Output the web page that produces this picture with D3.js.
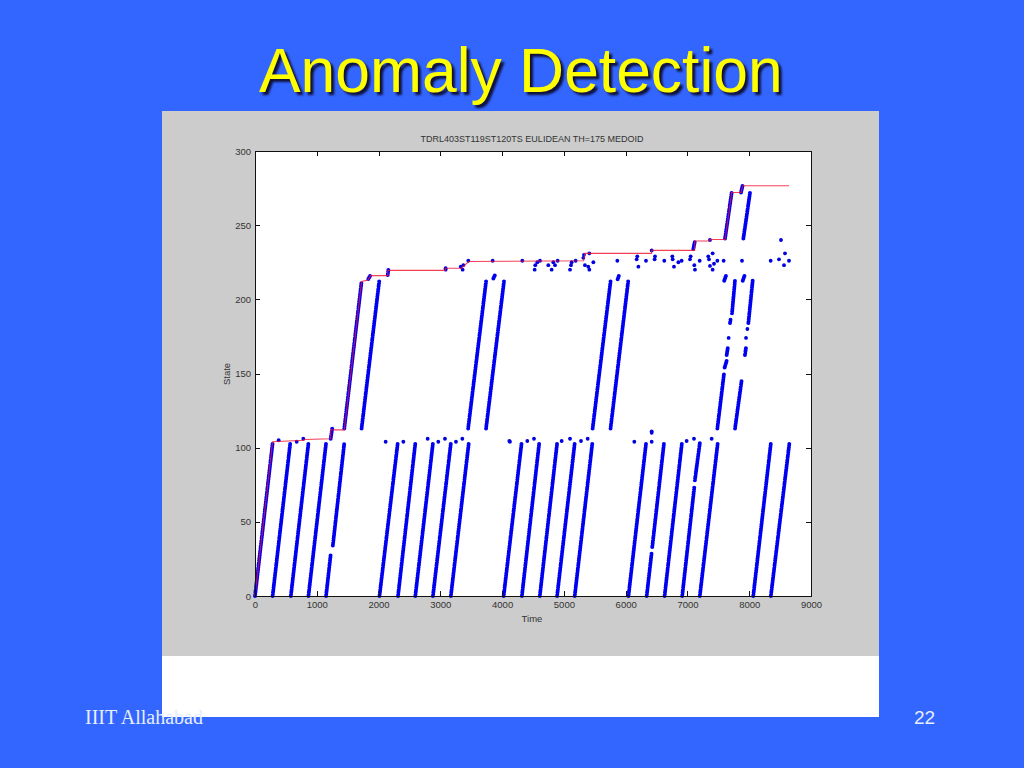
<!DOCTYPE html>
<html>
<head>
<meta charset="utf-8">
<script src="https://cdn.jsdelivr.net/npm/d3@7"></script>
<style>
  html, body { margin: 0; padding: 0; background: #3366ff; overflow: hidden; }
  text { font-family: "Liberation Sans", Arial, sans-serif; }
  .axis text { font-size: 9.5px; fill: #333; font-family: "Liberation Sans", Arial, sans-serif; }
  .axis path, .axis line { stroke: #111; shape-rendering: crispEdges; }
</style>
</head>
<body>
<script>
var timeTicks = [0, 1000, 2000, 3000, 4000, 5000, 6000, 7000, 8000, 9000]
var stateTicks = [0, 50, 100, 150, 200, 250, 300]

// dense runs of dots, each one is a list of [time, state]
var lowerRuns = [
    [[0, 0], [285, 103]],
    [[285, 0], [570, 103]],
    [[580, 0], [865, 103]],
    [[865, 0], [1150, 103]],
    [[1150, 0], [1225, 28]],
    [[1260, 34], [1445, 103]],
    [[2015, 0], [2310, 103]],
    [[2315, 0], [2595, 103]],
    [[2595, 0], [2880, 103]],
    [[2880, 0], [3170, 103]],
    [[3170, 0], [3460, 103]],
    [[4025, 0], [4315, 103]],
    [[4320, 0], [4600, 103]],
    [[4610, 0], [4890, 103]],
    [[4890, 0], [5175, 103]],
    [[5175, 0], [5460, 103]],
    [[6045, 0], [6330, 103]],
    [[6340, 0], [6420, 29]],
    [[6430, 33], [6620, 103]],
    [[6630, 0], [6910, 103]],
    [[6915, 0], [7110, 73]],
    [[7120, 78], [7200, 103]],
    [[7200, 0], [7490, 103]],
    [[8065, 0], [8350, 103]],
    [[8350, 0], [8650, 103]]
]
var middleRuns = [
    [[1225, 106], [1250, 113]],
    [[1445, 113], [1725, 212]],
    [[1725, 113], [2010, 212]],
    [[3450, 113], [3740, 212]],
    [[3740, 113], [4030, 212]],
    [[5465, 113], [5755, 212]],
    [[5755, 113], [6040, 212]],
    [[7484, 113], [7592, 150]],
    [[7602, 154], [7635, 158.6]],
    [[7635, 162.5], [7656, 168]],
    [[7689, 184], [7700, 187]],
    [[7721, 190.6], [7770, 213]],
    [[7770, 113], [7878, 145.6]],
    [[7931, 162.5], [7948, 167.6]],
    [[7986, 184], [8056, 212.6]]
]
var upperRuns = [
    [[1834, 213.7], [1873, 216.4]],
    [[2148, 216.4], [2159, 220]],
    [[3858, 214], [3885, 216.4]],
    [[5870, 213.5], [5892, 216]],
    [[7595, 212.5], [7625, 216]],
    [[7895, 212.5], [7925, 216]],
    [[7095, 234], [7122, 239.5]],
    [[7608, 241], [7716, 272]],
    [[7905, 241], [8013, 272]],
    [[7867, 272], [7894, 277]]
]

// single dots
var dotTimes = [383, 675, 782, 2115, 2401, 2795, 2967, 3075, 3253, 3356, 4117, 4127, 4408, 4516, 4964, 5099, 5277, 5385,
    6140, 6421, 6421, 6421, 6987, 7106, 7392,
    7667, 7948, 7970,
    3086, 3086, 3330, 3372, 3453, 3361, 3847, 4327, 4570, 4613, 4537, 4527, 4748, 4802, 4856, 4829, 4899,
    5099, 5115, 5126, 5190, 5315, 5325, 5412, 5341, 5395, 5477, 5412, 5865,
    6188, 6178, 6206, 6329, 6421, 6475, 6469, 6625, 6755, 6761, 6782, 6853, 6906,
    7052, 7041, 7111, 7122, 7198, 7337, 7349, 7408, 7365, 7408, 7430, 7484, 7365,
    7586, 7883, 8347, 8514, 8482, 8579, 8563, 8644]
var dotStates = [105, 104, 106, 104, 104, 106, 104, 106, 104, 106, 104.5, 104, 104.5, 106, 104.5, 106, 104.5, 106,
    104, 110, 111, 104, 104.5, 106, 106,
    174, 174, 180,
    221, 220, 222, 223, 226, 220, 226, 226, 225, 226, 223, 220, 223, 220, 223, 225, 226,
    220, 223, 225, 226, 228, 230, 231, 223, 222, 225, 220, 226,
    229, 227, 222, 226, 233, 229, 227, 226, 229, 227, 222, 225, 226,
    229, 227, 223, 220, 226, 229, 227, 231, 222.5, 220, 224, 226, 240,
    226, 226, 226, 240, 227, 231, 223, 226]

var redTimes = [0, 285, 790, 790, 1225, 1225, 1445, 1725, 1830, 1870, 2150, 2150, 3080, 3080, 3340, 3460, 5320, 5340, 6420, 6420, 7115, 7120, 7365, 7365, 7610, 7716, 7870, 7890, 8644]
var redStates = [0, 104, 105, 105.5, 106, 112, 112, 212, 213, 216, 216, 219.5, 219.5, 221, 221, 225.5, 226, 231, 231, 233, 233, 239.3, 239.3, 240.3, 240.3, 272, 272, 276.6, 276.6]

var svg = d3.select("body").append("svg")
    .attr("width", 1024).attr("height", 768)
    .style("display", "block")

var left = 255, right = 811, top_ = 151, bottom = 596

var x = d3.scaleLinear().domain([0, 9000]).range([left, right])
var y = d3.scaleLinear().domain([0, 300]).range([bottom, top_])

// the pasted figure: white sheet with grey matlab window on top
svg.append("rect").attr("x", 162).attr("y", 111).attr("width", 717).attr("height", 606).style("fill", "white")
svg.append("rect").attr("x", 162).attr("y", 111).attr("width", 717).attr("height", 545).style("fill", "#cccccc")
svg.append("rect").attr("x", left).attr("y", top_).attr("width", right - left).attr("height", bottom - top_).style("fill", "white")

// slide title, the shadow is a filter so there is only one text
svg.append("text")
    .attr("x", 259).attr("y", 92)
    .style("font-size", "62.4px")
    .style("fill", "#ffff00")
    .style("filter", "drop-shadow(3px 3px 1px #10103a)")
    .text("Anomaly Detection")

var line = d3.line()
    .x(function (d) { return x(d[0]) })
    .y(function (d) { return y(d[1]) })

svg.append("g").selectAll("path")
    .data(lowerRuns.concat(middleRuns, upperRuns))
    .enter().append("path")
    .attr("d", line)
    .style("fill", "none")
    .style("stroke", "#0000f0")
    .style("stroke-width", 4)
    .style("stroke-linecap", "round")
    .style("stroke-dasharray", "0 1.7")

svg.append("g").selectAll("circle")
    .data(dotTimes)
    .enter().append("circle")
    .attr("cx", function (d) { return x(d) })
    .attr("cy", function (d, i) { return y(dotStates[i]) })
    .attr("r", 1.9)
    .style("fill", "#0000e0")

svg.append("path")
    .attr("d", line(redTimes.map(function (d, i) { return [d, redStates[i]] })))
    .style("fill", "none")
    .style("stroke", "#f01030")
    .style("stroke-width", 1.1)
    .style("opacity", 0.8)

// box with inward ticks on all four sides
svg.append("g").attr("class", "axis")
    .attr("transform", "translate(0," + bottom + ")")
    .call(d3.axisBottom(x).tickValues(timeTicks).tickFormat(d3.format("d")).tickSizeInner(-5).tickSizeOuter(0).tickPadding(5))
svg.append("g").attr("class", "axis")
    .attr("transform", "translate(0," + top_ + ")")
    .call(d3.axisTop(x).tickValues(timeTicks).tickFormat("").tickSizeInner(-5).tickSizeOuter(0))
svg.append("g").attr("class", "axis")
    .attr("transform", "translate(" + left + ",0)")
    .call(d3.axisLeft(y).tickValues(stateTicks).tickSizeInner(-5).tickSizeOuter(0).tickPadding(4))
svg.append("g").attr("class", "axis")
    .attr("transform", "translate(" + right + ",0)")
    .call(d3.axisRight(y).tickValues(stateTicks).tickFormat("").tickSizeInner(-5).tickSizeOuter(0))

svg.append("text")
    .attr("x", 532).attr("y", 142)
    .attr("text-anchor", "middle")
    .style("font-size", "9px").style("fill", "#333")
    .text("TDRL403ST119ST120TS EULIDEAN TH=175 MEDOID")

svg.append("text")
    .attr("x", 532).attr("y", 622)
    .attr("text-anchor", "middle")
    .style("font-size", "9.5px").style("fill", "#333")
    .text("Time")

svg.append("text")
    .attr("transform", "translate(230,374) rotate(-90)")
    .attr("text-anchor", "middle")
    .style("font-size", "9.5px").style("fill", "#333")
    .text("State")

// footer
svg.append("text")
    .attr("x", 85).attr("y", 724)
    .style("font-family", "'Liberation Serif', 'Times New Roman', serif")
    .style("font-size", "20px").style("fill", "#e6eeff")
    .text("IIIT Allahabad")

svg.append("text")
    .attr("x", 914).attr("y", 724)
    .style("font-size", "19px").style("fill", "#e6eeff")
    .text("22")
</script>
</body>
</html>
